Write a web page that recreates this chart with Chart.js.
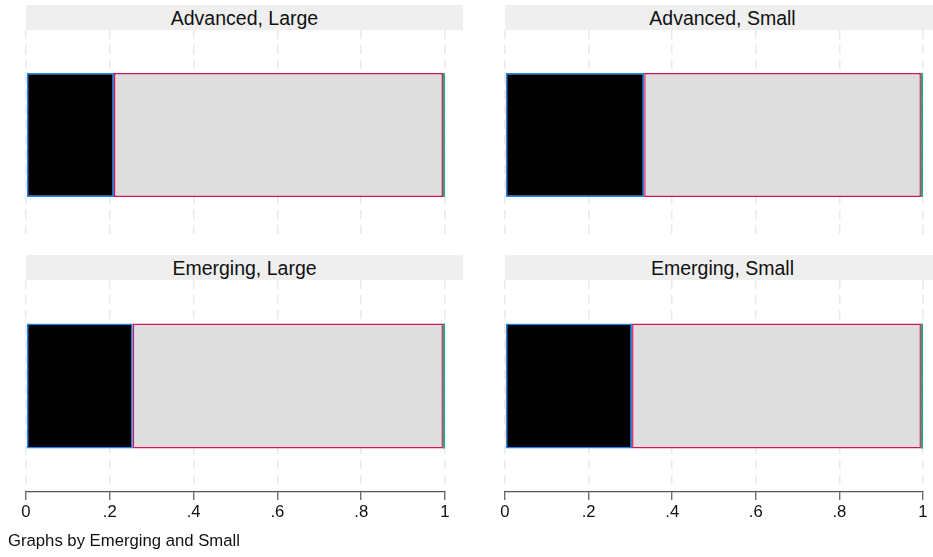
<!DOCTYPE html>
<html>
<head>
<meta charset="utf-8">
<script src="https://cdn.jsdelivr.net/npm/chart.js@4/dist/chart.umd.min.js"></script>
<style>
  html, body { margin:0; padding:0; background:#fff; }
  body { width:933px; height:557px; position:relative; overflow:hidden; font-family:"Liberation Sans", Arial, Helvetica, sans-serif; }
  .strip { position:absolute; height:25px; background:#efefef; color:#111; font-size:19.5px; line-height:26px; text-align:center; }
  .cv { position:absolute; }
  #caption { position:absolute; left:8px; top:531px; font-size:16.7px; color:#111; }
</style>
</head>
<body>
<div class="strip" style="left:26px; top:5px; width:437px;" id="t0"></div>
<div class="strip" style="left:505px; top:5px; width:435px;" id="t1"></div>
<div class="strip" style="left:26px; top:255px; width:437px;" id="t2"></div>
<div class="strip" style="left:505px; top:255px; width:435px;" id="t3"></div>
<div class="cv" style="left:0px; top:30px; width:470px; height:210px;"><canvas id="c0"></canvas></div>
<div class="cv" style="left:479px; top:30px; width:454px; height:210px;"><canvas id="c1"></canvas></div>
<div class="cv" style="left:0px; top:280px; width:470px; height:252px;"><canvas id="c2"></canvas></div>
<div class="cv" style="left:479px; top:280px; width:454px; height:252px;"><canvas id="c3"></canvas></div>
<div id="caption">Graphs by Emerging and Small</div>
<script>
const panels = ["Advanced, Large", "Advanced, Small", "Emerging, Large", "Emerging, Small"];
const share1 = [0.210, 0.333, 0.255, 0.304];
const share2 = [0.785, 0.662, 0.740, 0.691];
const share3 = [0.005, 0.005, 0.005, 0.005];
const xTicks = [0, 0.2, 0.4, 0.6, 0.8, 1];
const xTickLabels = ["0", ".2", ".4", ".6", ".8", "1"];

const FONT = '"Liberation Sans", Arial, Helvetica, sans-serif';
const pads = [
  {left:26, right:25}, {left:26, right:10},
  {left:26, right:25}, {left:26, right:10}
];

panels.forEach((name, i) => {
  document.getElementById('t' + i).textContent = name;
  const bottom = i >= 2;
  new Chart(document.getElementById('c' + i), {
    type: 'bar',
    data: {
      labels: [name],
      datasets: [
        { data: [share1[i]], backgroundColor: '#000000', borderColor: '#1a85ff', borderWidth: 1.5, borderSkipped: false },
        { data: [share2[i]], backgroundColor: '#dedede', borderColor: '#d41159', borderWidth: 1.5, borderSkipped: false },
        { data: [share3[i]], backgroundColor: '#1fae78', borderColor: '#1fae78', borderWidth: 0, borderSkipped: false }
      ]
    },
    options: {
      indexAxis: 'y',
      responsive: true,
      maintainAspectRatio: false,
      animation: false,
      layout: { padding: { left: pads[i].left, right: pads[i].right, top: 0, bottom: 0 } },
      plugins: { legend: { display: false }, tooltip: { enabled: false } },
      datasets: { bar: { categoryPercentage: 1, barPercentage: 0.59 } },
      scales: {
        x: {
          stacked: true,
          min: 0, max: 1,
          afterBuildTicks: (s) => { s.ticks = xTicks.map(v => ({ value: v })); },
          afterFit: (s) => { s.height = bottom ? 40 : 0; },
          grid: {
            color: '#e9e9e9', lineWidth: 1.5,
            drawTicks: bottom, tickLength: 8, tickColor: '#555', tickWidth: 1.2, tickBorderDash: []
          },
          border: { display: bottom, color: '#555', width: 1.2, dash: [9, 6] },
          ticks: {
            display: bottom,
            padding: 2,
            color: '#111',
            font: { family: FONT, size: 16.7 },
            maxRotation: 0,
            callback: (v, idx) => xTickLabels[idx]
          }
        },
        y: { stacked: true, display: false }
      }
    }
  });
});
</script>
</body>
</html>
